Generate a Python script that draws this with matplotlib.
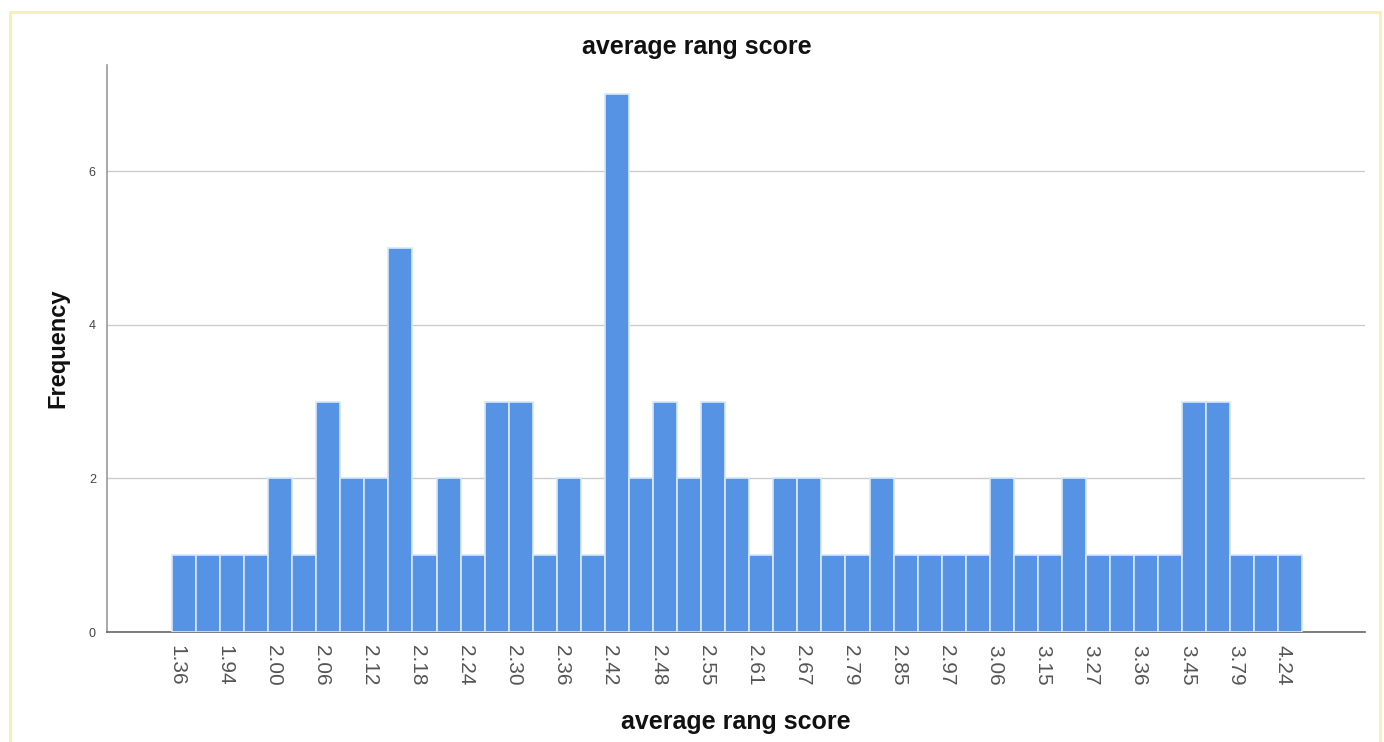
import matplotlib.pyplot as plt
import matplotlib.patches as patches
from matplotlib.transforms import ScaledTranslation

plt.rcParams['font.family'] = ['Liberation Sans', 'DejaVu Sans']

# frequency per score category (47 categories, only every other one is labelled)
freq = [1, 1, 1, 1, 2, 1, 3, 2, 2, 5,
        1, 2, 1, 3, 3, 1, 2, 1, 7, 2,
        3, 2, 3, 2, 1, 2, 2, 1, 1, 2,
        1, 1, 1, 1, 2, 1, 1, 2, 1, 1,
        1, 1, 3, 3, 1, 1, 1]
tick_labels = ["1.36", "1.94", "2.00", "2.06", "2.12", "2.18", "2.24", "2.30",
               "2.36", "2.42", "2.48", "2.55", "2.61", "2.67", "2.79", "2.85",
               "2.97", "3.06", "3.15", "3.27", "3.36", "3.45", "3.79", "4.24"]

fig = plt.figure(figsize=(13.84, 7.42), dpi=100)
ax = fig.add_axes([0.0773, 0.1482, 0.909, 0.7642])

x = list(range(len(freq)))
ax.bar(x, freq, width=1.0, color="#5693e4", edgecolor="#d6e8fb", linewidth=1.2, zorder=3)

ax.set_xlim(-3.2, 49.1)
ax.set_ylim(0, 7.38)
ax.set_yticks([0, 2, 4, 6])
ax.tick_params(axis="y", length=0, labelsize=9, labelcolor="#444444", pad=8)
ax.set_xticks(x[::2])
ax.set_xticklabels(tick_labels, rotation=-90, fontsize=15, color="#555555")
ax.tick_params(axis="x", length=0, pad=9)
# nudge rotated labels a bit left, like the original
shift = ScaledTranslation(-7 / 100, 0, fig.dpi_scale_trans)
for lab in ax.get_xticklabels():
    lab.set_transform(lab.get_transform() + shift)
ax.grid(axis="y", color="#cccccc", linewidth=1, zorder=0)

for s in ["top", "right"]:
    ax.spines[s].set_visible(False)
ax.spines["left"].set_color("#999999")
ax.spines["bottom"].set_color("#666666")
ax.spines["left"].set_linewidth(1.2)
ax.spines["bottom"].set_linewidth(1.2)

fig.text(697 / 1384, 1 - 47 / 742, "average rang score", fontsize=18,
         fontweight="bold", ha="center", va="center", color="#111111")
ax.set_xlabel("average rang score", fontsize=18, fontweight="bold", labelpad=18,
              color="#111111")
ax.set_ylabel("Frequency", fontsize=17, fontweight="bold", labelpad=14,
              color="#111111")

# light yellow border around the chart
fig.patches.append(patches.Rectangle((10 / 1384, -0.01), 1370 / 1384, 1 - 12 / 742 + 0.01,
                                     transform=fig.transFigure, fill=False,
                                     edgecolor="#f6efb8", linewidth=2))

fig.savefig("out.png", dpi=100)
